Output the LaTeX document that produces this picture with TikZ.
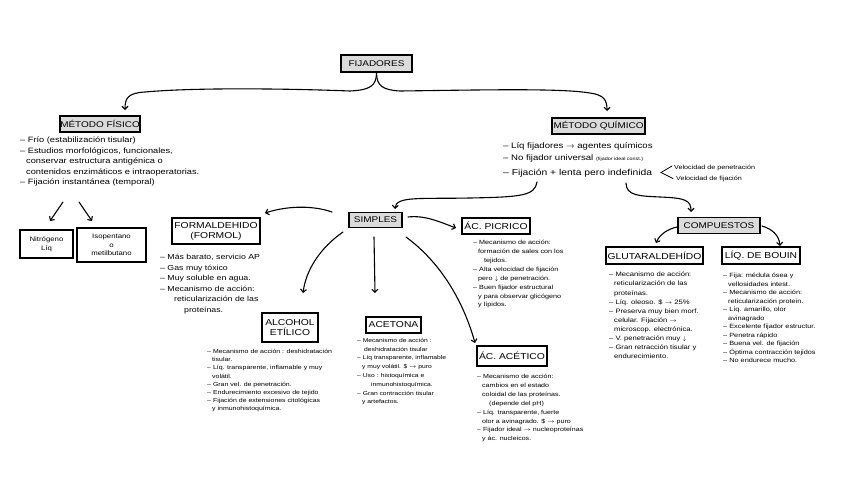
\documentclass[tikz,border=0pt]{standalone}
\usepackage{fontspec}
\setmainfont{Liberation Sans}
\newfontfamily\hand[FakeStretch=1.2]{Liberation Sans}
\usetikzlibrary{arrows.meta}
\newcommand{\ind}[1]{\hspace*{#1pt}}
\begin{document}
\begin{tikzpicture}[x=1pt,y=-1pt,
  gbox/.style={draw, line width=1.2pt, fill=black!14, inner sep=0pt, align=center, font=\hand\fontsize{8.3}{9}\selectfont},
  wbox/.style={draw, line width=1.2pt, fill=white, inner sep=0pt, align=center, font=\hand\fontsize{8.6}{10}\selectfont},
  txt/.style={anchor=north west, align=left, inner sep=0pt},
  arr/.style={line width=1.1pt, -{Straight Barb[length=3pt,width=6pt]}},
  line cap=round]
\useasboundingbox (0,0) rectangle (848,477);
\fill[white] (0,0) rectangle (848,477);

% boxes
\node[gbox, minimum width=71pt, minimum height=17pt] (fij) at (376.5,63.5) {FIJADORES};
\node[gbox, minimum width=80pt, minimum height=16pt] (mf) at (100,124) {MÉTODO FÍSICO};
\node[gbox, minimum width=93pt, minimum height=16pt] (mq) at (598.5,126) {MÉTODO QUÍMICO};
\node[gbox, minimum width=53pt, minimum height=15pt] (sim) at (375.5,220) {SIMPLES};
\node[gbox, minimum width=82pt, minimum height=16pt] (comp) at (719,225.5) {COMPUESTOS};
\node[wbox, minimum width=88pt, minimum height=26pt] (form) at (216,231) {FORMALDEHIDO\\(FORMOL)};
\node[wbox, minimum width=68pt, minimum height=16pt] (pic) at (496,226) {ÁC. PICRICO};
\node[wbox, minimum width=97pt, minimum height=17pt] (glu) at (654.5,255.5) {GLUTARALDEHÍDO};
\node[wbox, minimum width=78pt, minimum height=17pt] (bou) at (761,255.5) {LÍQ. DE BOUIN};
\node[wbox, minimum width=56pt, minimum height=29pt] (alc) at (290,327.5) {ALCOHOL\\ETÍLICO};
\node[wbox, minimum width=55pt, minimum height=16pt] (ace) at (393.5,325) {ACETONA};
\node[wbox, minimum width=70pt, minimum height=20pt] (acet) at (512,356) {ÁC. ACÉTICO};
\node[wbox, line width=1.3pt, minimum width=53pt, minimum height=28pt, font=\hand\fontsize{6.5}{9}\selectfont] (nit) at (46.5,244) {Nitrógeno\\Líq};
\node[wbox, line width=1.3pt, minimum width=69pt, minimum height=34pt, font=\hand\fontsize{6.5}{8.5}\selectfont] (iso) at (111.5,245) {Isopentano\\o\\metilbutano};

% text blocks
\node[txt, font=\hand\fontsize{7.7}{10.4}\selectfont] (mft) at (20,137) {%
– Frío (estabilización tisular)\\
– Estudios morfológicos, funcionales,\\
\ind{6}conservar estructura antigénica o\\
\ind{6}contenidos enzimáticos e intraoperatorias.\\
– Fijación instantánea (temporal)};

\node[txt, anchor=base west, font=\hand\fontsize{8}{10}\selectfont] (mq1) at (503,148.5) {– Líq fijadores $\rightarrow$ agentes químicos};
\node[txt, anchor=base west, font=\hand\fontsize{8}{10}\selectfont] (mq2) at (503,160.5) {– No fijador universal {\fontsize{4.5}{5}\selectfont(fijador ideal const.)}};
\node[txt, anchor=base west, font=\hand\fontsize{8.6}{10}\selectfont] (mq3) at (503,175) {– Fijación + lenta pero indefinida};
\node[txt, anchor=base west, font=\hand\fontsize{6}{7}\selectfont] (vp) at (674,169.5) {Velocidad de penetración};
\node[txt, anchor=base west, font=\hand\fontsize{6}{7}\selectfont] (vf) at (676,180) {Velocidad de fijación};
\coordinate (lt1) at (672,166);
\coordinate (lt0) at (661,172.5);
\coordinate (lt2) at (673,178.5);
\draw[line width=0.8pt] (lt1) -- (lt0) -- (lt2);

\node[txt, font=\hand\fontsize{7.3}{10.6}\selectfont] (formt) at (160,254) {%
– Más barato, servicio AP\\
– Gas muy tóxico\\
– Muy soluble en agua.\\
– Mecanismo de acción:\\
\ind{14}reticularización de las\\
\ind{24}proteínas.};

\node[txt, font=\hand\fontsize{6}{8.9}\selectfont] (pict) at (473,240) {%
– Mecanismo de acción:\\
\ind{5}formación de sales con los\\
\ind{11}tejidos.\\
– Alta velocidad de fijación\\
\ind{5}pero $\downarrow$ de penetración.\\
– Buen fijador estructural\\
\ind{5}y para observar glicógeno\\
\ind{5}y lípidos.};

\node[txt, font=\hand\fontsize{6.35}{9.1}\selectfont] (glut) at (609,272) {%
– Mecanismo de acción:\\
\ind{5}reticularización de las\\
\ind{5}proteínas.\\
– Líq. oleoso. \$ $\rightarrow$ 25\%\\
– Preserva muy bien morf.\\
\ind{5}celular. Fijación $\rightarrow$\\
\ind{5}microscop. electrónica.\\
– V. penetración muy $\downarrow$\\
– Gran retracción tisular y\\
\ind{5}endurecimiento.};

\node[txt, font=\hand\fontsize{6.1}{8.5}\selectfont] (bout) at (723,273) {%
– Fija: médula ósea y\\
\ind{5}vellosidades intest.\\
– Mecanismo de acción:\\
\ind{5}reticularización protein.\\
– Líq. amarillo, olor\\
\ind{5}avinagrado\\
– Excelente fijador estructur.\\
– Penetra rápido\\
– Buena vel. de fijación\\
– Óptima contracción tejidos\\
– No endurece mucho.};

\node[txt, font=\hand\fontsize{5.8}{8.2}\selectfont] (alct) at (207,349) {%
– Mecanismo de acción : deshidratación\\
\ind{5}tisular.\\
– Líq. transparente, inflamable y muy\\
\ind{5}volátil.\\
– Gran vel. de penetración.\\
– Endurecimiento excesivo de tejido\\
– Fijación de extensiones citológicas\\
\ind{5}y inmunohistoquímica.};

\node[txt, font=\hand\fontsize{5.6}{8.8}\selectfont] (acet1) at (357,338) {%
– Mecanismo de acción :\\
\ind{7}deshidratación tisular\\
– Líq transparente, inflamable\\
\ind{5}y muy volátil. \$ $\rightarrow$ puro\\
– Uso : histoquímica e\\
\ind{14}inmunohistoquímica.\\
– Gran contracción tisular\\
\ind{5}y artefactos.};

\node[txt, font=\hand\fontsize{5.9}{8.9}\selectfont] (acett) at (477,374) {%
– Mecanismo de acción:\\
\ind{5}cambios en el estado\\
\ind{5}coloidal de las proteínas.\\
\ind{12}(depende del pH)\\
– Líq. transparente, fuerte\\
\ind{5}olor a avinagrado. \$ $\rightarrow$ puro\\
– Fijador ideal $\rightarrow$ nucleoproteínas\\
\ind{5}y ác. nucleicos.};

% connector end points
\coordinate (mfin) at (125,110);
\coordinate (mqin) at (607,111);
\coordinate (a1s) at (63,202);
\coordinate (a1e) at (50,221);
\coordinate (a2s) at (79,202);
\coordinate (a2e) at (92,221);
\coordinate (q1) at (537,182);
\coordinate (simin) at (395,209);
\coordinate (q2) at (626,183);
\coordinate (compin) at (691,212);
\coordinate (s1) at (332,212);
\coordinate (forin) at (265,213);
\coordinate (s2) at (408,217);
\coordinate (picin) at (456,228);
\coordinate (s3) at (343,232);
\coordinate (alcin) at (303,293);
\coordinate (s4) at (374,237);
\coordinate (acein) at (375,293);
\coordinate (s5) at (406,237);
\coordinate (acetin) at (475,343);
\coordinate (c1) at (677,227);
\coordinate (gluin) at (656,243);
\coordinate (c2) at (762,226);
\coordinate (bouin) at (780,246);

% connectors
\draw[arr] (fij.south) .. controls (376.5,86) and (370,90) .. (350,91) .. controls (300,89) and (200,87) .. (145,92) .. controls (128,93) and (125,98) .. (mfin);
\draw[arr] (fij.south) .. controls (376.5,86) and (383,90) .. (400,91) .. controls (480,90) and (560,88) .. (590,93) .. controls (604,95) and (607,100) .. (mqin);
\draw[arr] (a1s) -- (a1e);
\draw[arr] (a2s) -- (a2e);
\draw[arr] (q1) .. controls (535,196) and (520,197) .. (470,198) .. controls (420,199) and (396,196) .. (simin);
\draw[arr] (q2) .. controls (626,196) and (640,196) .. (660,197) .. controls (685,198) and (691,200) .. (compin);
\draw[arr] (s1) .. controls (315,206) and (290,205) .. (forin);
\draw[arr] (s2) .. controls (425,215) and (440,222) .. (picin);
\draw[arr] (s3) .. controls (320,248) and (306,270) .. (alcin);
\draw[arr] (s4) -- (acein);
\draw[arr] (s5) .. controls (440,262) and (463,300) .. (acetin);
\draw[arr] (c1) .. controls (668,229) and (660,234) .. (gluin);
\draw[arr] (c2) .. controls (772,229) and (779,235) .. (bouin);
\end{tikzpicture}
\end{document}
